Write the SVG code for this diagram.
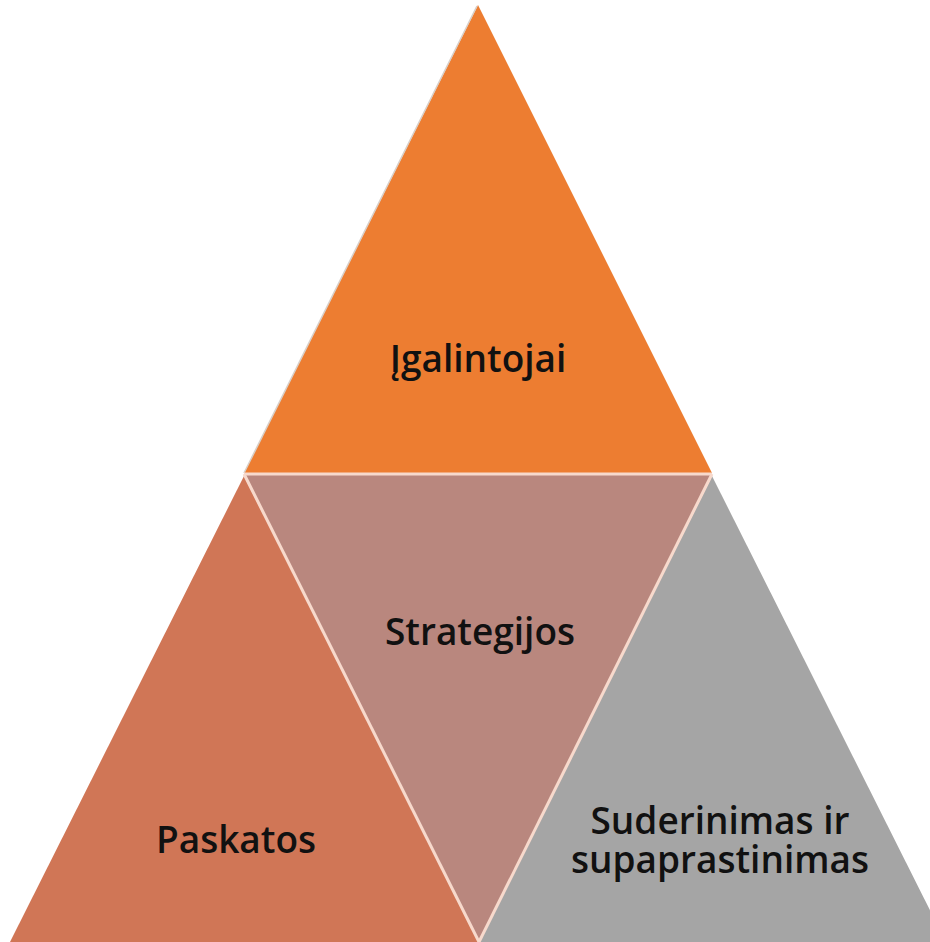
<svg xmlns="http://www.w3.org/2000/svg" width="930" height="942" viewBox="0 0 930 942">
<style>
.lbl{font-family:"Open Sans","Noto Sans","Liberation Sans",sans-serif;font-size:37px;font-weight:600;fill:#111;text-anchor:middle}
.sep{stroke:#F7D9CC;stroke-width:3;fill:none}
</style>
<rect width="930" height="942" fill="#FFFFFF"/>
<g id="top">
<polygon points="478,5 712,473 244,473" fill="#ED7D31"/>
<line x1="477" y1="6" x2="244" y2="473" stroke="#D8CFC8" stroke-width="1.5"/>
<text class="lbl" x="478" y="372">Įgalintojai</text>
</g>
<g id="left">
<polygon points="244,476 479,942 10,942" fill="#D07656"/>
<text class="lbl" x="236" y="853">Paskatos</text>
</g>
<g id="middle">
<polygon points="244,474 712,474 479,942" fill="#B9877E"/>
<text class="lbl" x="480" y="645">Strategijos</text>
</g>
<g id="right">
<polygon points="712,476 946,942 479,942" fill="#A5A5A5"/>
<text class="lbl" x="720" y="834">Suderinimas ir</text>
<text class="lbl" x="720" y="873">supaprastinimas</text>
</g>
<g id="connectors">
<line class="sep" x1="244" y1="474" x2="712" y2="474"/>
<line class="sep" x1="244" y1="474" x2="479" y2="942"/>
<line class="sep" x1="712" y1="474" x2="479" y2="942"/>
</g>
</svg>
